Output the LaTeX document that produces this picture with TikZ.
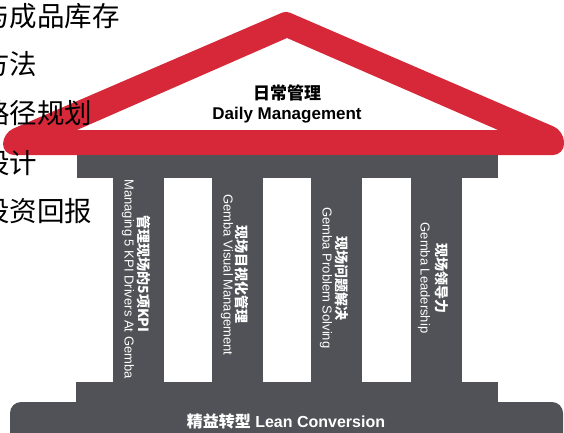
\documentclass[tikz,border=0pt]{standalone}
\usepackage{fontspec}
\setmainfont{Liberation Sans}
\newfontfamily\cjk{Noto Sans CJK SC}
\definecolor{rred}{RGB}{214,40,57}
\definecolor{pgray}{RGB}{80,82,87}
\begin{document}
\begin{tikzpicture}[x=1pt,y=-1pt,
  lefttxt/.style={anchor=west,inner sep=0pt,text=black,font=\cjk\fontsize{27.5}{30}\selectfont},
  rooftxt/.style={inner sep=0pt,text=black,font=\bfseries\fontsize{17}{19}\selectfont},
  cnlab/.style={rotate=-90,inner sep=0pt,text=white,font=\cjk\bfseries\fontsize{14}{16}\selectfont},
  enlab/.style={rotate=-90,inner sep=0pt,text=white,font=\fontsize{13}{15}\selectfont},
  basetxt/.style={inner sep=0pt,text=white,font=\bfseries\fontsize{16}{18}\selectfont}]
\useasboundingbox (0,0) rectangle (564,432);
\clip (0,0) rectangle (564,432);
% roof
\fill[rred,even odd rule] (280,155) [rounded corners=11pt] -- (3,155) -- (3,133) [rounded corners=4pt] -- (286,11) [rounded corners=11pt] -- (564,131) -- (564,155) [sharp corners] -- cycle
  (287,38) -- (498,130) -- (77,130) -- cycle;
% entablature and columns
\fill[pgray] (77,155) rectangle (498,178);
\fill[pgray] (113,177) rectangle (164,383);
\fill[pgray] (212,177) rectangle (263,383);
\fill[pgray] (311,177) rectangle (362,383);
\fill[pgray] (411,177) rectangle (462,383);
% steps
\fill[pgray] (76,382) rectangle (498,404);
\fill[pgray,rounded corners=11pt] (10,445) -- (10,402) -- (563,402) -- (563,445) -- cycle;
% roof text
\node[rooftxt] (r1) at (287,93) {{\cjk 日常管理}};
\node[rooftxt] (r2) at (287,115) {Daily Management};
% column labels
\node[cnlab] (c1a) at (144,274) {管理现场的5项KPI};
\node[enlab] (c1b) at (128,279) {Managing 5 KPI Drivers At Gemba};
\node[cnlab] (c2a) at (242,274) {现场目视化管理};
\node[enlab] (c2b) at (227,275) {Gemba Visual Management};
\node[cnlab] (c3a) at (342,278) {现场问题解决};
\node[enlab] (c3b) at (326,278) {Gemba Problem Solving};
\node[cnlab] (c4a) at (442,278) {现场领导力};
\node[enlab] (c4b) at (424,278) {Gemba Leadership};
% base text
\node[basetxt] (b1) at (286,421) {{\cjk 精益转型} Lean Conversion};
% left background text
\node[lefttxt] (l1) at (-18,16) {与成品库存};
\node[lefttxt] (l2) at (-18,64) {方法};
\node[lefttxt] (l3) at (-18,113) {路径规划};
\node[lefttxt] (l4) at (-18,163) {设计};
\node[lefttxt] (l5) at (-18,211) {投资回报};
\end{tikzpicture}
\end{document}
